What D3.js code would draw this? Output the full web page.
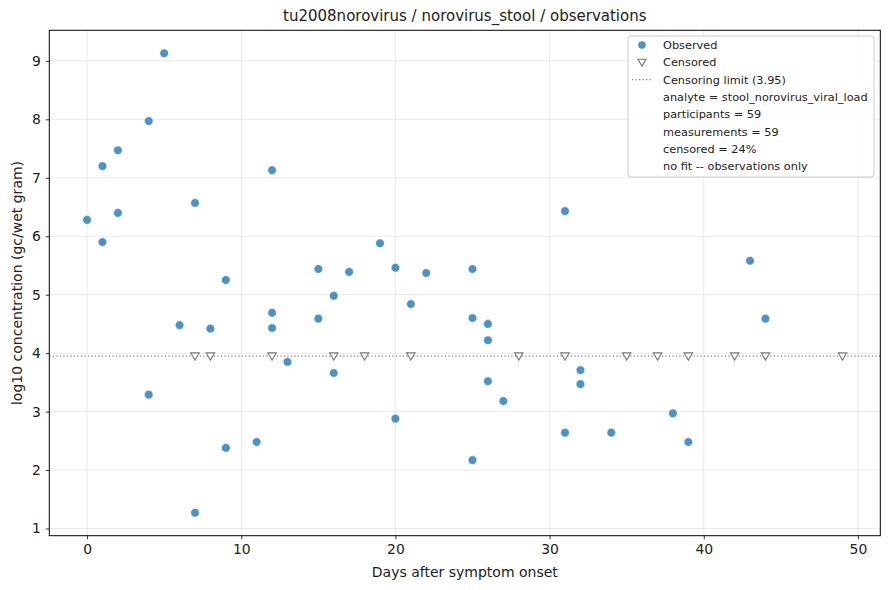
<!DOCTYPE html>
<html>
<head>
<meta charset="utf-8">
<script src="https://cdn.jsdelivr.net/npm/d3@7"></script>
<style>
  body { margin: 0; background: #fff; }
  text { font-family: "DejaVu Sans", sans-serif; fill: #222; }
</style>
</head>
<body>
<svg id="chart" width="890" height="590"></svg>
<script>
// observed measurements: day after onset, log10 concentration
var obsDays = [0, 1, 1, 2, 2, 4, 4, 5, 6, 7, 7, 8, 9, 9, 11, 12, 12, 12, 13, 15, 15, 16, 16, 17, 19,
               20, 20, 21, 22, 25, 25, 25, 26, 26, 26, 27, 31, 31, 32, 32, 34, 38, 39, 43, 44];
var obsValues = [6.28, 7.2, 5.9, 7.47, 6.4, 7.97, 3.29, 9.13, 4.48, 6.57, 1.27, 4.42, 5.25, 2.38, 2.48,
                 7.13, 4.69, 4.43, 3.85, 5.44, 4.59, 4.98, 3.66, 5.39, 5.88, 5.46, 2.88, 4.84, 5.37,
                 5.44, 4.6, 2.17, 4.5, 4.22, 3.52, 3.18, 6.43, 2.64, 3.71, 3.47, 2.64, 2.97, 2.48, 5.58, 4.59];

// censored measurements sit on the limit
var censDays = [7, 8, 12, 16, 18, 21, 28, 31, 35, 37, 39, 42, 44, 49];
var censLimit = 3.95;

var xTicks = [0, 10, 20, 30, 40, 50];
var yTicks = [1, 2, 3, 4, 5, 6, 7, 8, 9];

var legendLines = [
    "analyte = stool_norovirus_viral_load",
    "participants = 59",
    "measurements = 59",
    "censored = 24%",
    "no fit -- observations only"
];

var svg = d3.select("#chart");
var m = {left: 49.3, right: 880.3, top: 30.3, bottom: 535.7};

var x = d3.scaleLinear().domain([-2.45, 51.45]).range([m.left, m.right]);
var y = d3.scaleLinear().domain([0.877, 9.523]).range([m.bottom, m.top]);

// grid
var grid = svg.append("g");
grid.selectAll("line.gx").data(xTicks).enter().append("line")
    .attr("x1", function(d){ return x(d); }).attr("x2", function(d){ return x(d); })
    .attr("y1", m.top).attr("y2", m.bottom)
    .attr("stroke", "#e3e3e3").attr("stroke-width", 0.8);
grid.selectAll("line.gy").data(yTicks).enter().append("line")
    .attr("y1", function(d){ return y(d); }).attr("y2", function(d){ return y(d); })
    .attr("x1", m.left).attr("x2", m.right)
    .attr("stroke", "#e3e3e3").attr("stroke-width", 0.8);

// censoring limit
svg.append("line")
    .attr("x1", m.left).attr("x2", m.right)
    .attr("y1", y(censLimit)).attr("y2", y(censLimit))
    .attr("stroke", "#888").attr("stroke-width", 1.3)
    .attr("stroke-dasharray", "1.3,2.2");

// observed points
svg.append("g").selectAll("circle").data(obsDays).enter().append("circle")
    .attr("cx", function(d){ return x(d); })
    .attr("cy", function(d, i){ return y(obsValues[i]); })
    .attr("r", 4.3)
    .attr("fill", "#1f77b4").attr("fill-opacity", 0.8)
    .attr("stroke", "#fff").attr("stroke-width", 0.5);

// censored points (down triangles)
function triangle(cx, cy, s) {
    return "M" + (cx - s) + "," + (cy - s * 0.75) +
           "L" + (cx + s) + "," + (cy - s * 0.75) +
           "L" + cx + "," + (cy + s * 0.95) + "Z";
}
svg.append("g").selectAll("path").data(censDays).enter().append("path")
    .attr("d", function(d){ return triangle(x(d), y(censLimit), 4.2); })
    .attr("fill", "#fff").attr("stroke", "#777").attr("stroke-width", 1.1);

// axes
var xAxis = svg.append("g").attr("transform", "translate(0," + m.bottom + ")")
    .call(d3.axisBottom(x).tickValues(xTicks).tickSize(3.5).tickPadding(5));
var yAxis = svg.append("g").attr("transform", "translate(" + m.left + ",0)")
    .call(d3.axisLeft(y).tickValues(yTicks).tickSize(3.5).tickPadding(5));
[xAxis, yAxis].forEach(function(a){
    a.select(".domain").remove();
    a.selectAll("text").attr("font-size", 13.9).attr("font-family", "DejaVu Sans").attr("fill", "#222");
    a.selectAll("line").attr("stroke", "#000").attr("stroke-width", 0.8);
});

svg.append("rect")
    .attr("x", m.left).attr("y", m.top)
    .attr("width", m.right - m.left).attr("height", m.bottom - m.top)
    .attr("fill", "none").attr("stroke", "#000").attr("stroke-width", 1);

// labels
svg.append("text").attr("x", (m.left + m.right) / 2).attr("y", 21)
    .attr("text-anchor", "middle").attr("font-size", 15)
    .text("tu2008norovirus / norovirus_stool / observations");
svg.append("text").attr("x", (m.left + m.right) / 2).attr("y", 577)
    .attr("text-anchor", "middle").attr("font-size", 14)
    .text("Days after symptom onset");
svg.append("text")
    .attr("transform", "translate(22," + ((m.top + m.bottom) / 2) + ") rotate(-90)")
    .attr("text-anchor", "middle").attr("font-size", 14)
    .text("log10 concentration (gc/wet gram)");

// legend
var lg = svg.append("g");
lg.append("rect").attr("x", 628).attr("y", 36).attr("width", 246).attr("height", 141)
    .attr("rx", 3).attr("fill", "#fff").attr("fill-opacity", 0.85)
    .attr("stroke", "#ccc").attr("stroke-width", 1);

var rowY = function(i){ return 45 + i * 17.3; };
lg.append("circle").attr("cx", 642).attr("cy", rowY(0)).attr("r", 3.8)
    .attr("fill", "#1f77b4").attr("fill-opacity", 0.8);
lg.append("path").attr("d", triangle(642, rowY(1), 4))
    .attr("fill", "#fff").attr("stroke", "#777").attr("stroke-width", 1.1);
lg.append("line").attr("x1", 632).attr("x2", 652).attr("y1", rowY(2)).attr("y2", rowY(2))
    .attr("stroke", "#888").attr("stroke-width", 1.3).attr("stroke-dasharray", "1.3,2.2");

var labels = ["Observed", "Censored", "Censoring limit (" + censLimit + ")"].concat(legendLines);
lg.selectAll("text").data(labels).enter().append("text")
    .attr("x", 663).attr("y", function(d, i){ return rowY(i) + 4; })
    .attr("font-size", 11.3)
    .text(function(d){ return d; });
</script>
</body>
</html>
